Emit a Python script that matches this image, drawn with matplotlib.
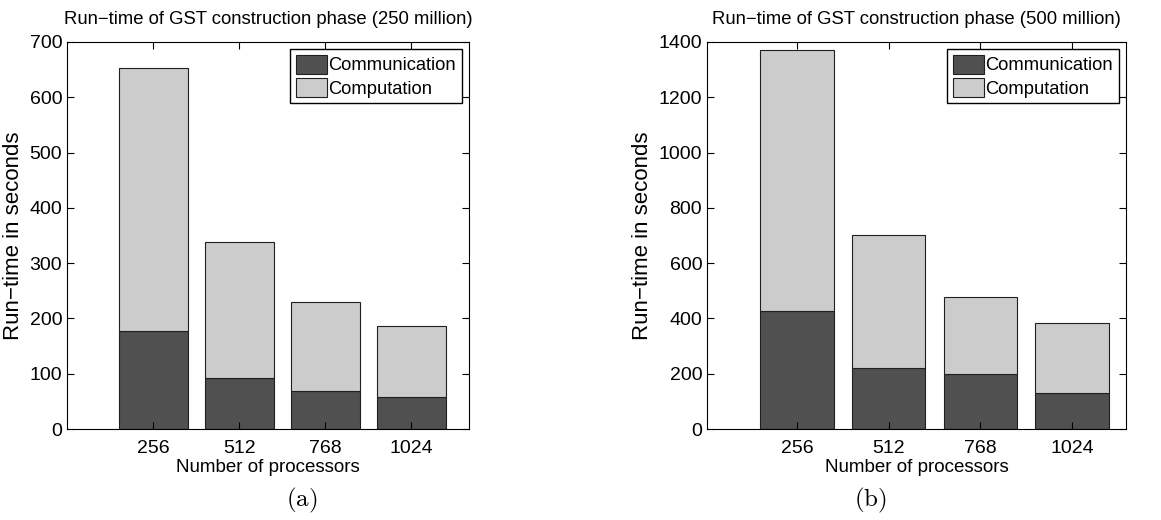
import matplotlib
matplotlib.use('Agg')
import matplotlib.pyplot as plt
import numpy as np

plt.rcParams['font.family'] = ['Liberation Sans', 'DejaVu Sans']
plt.rcParams['mathtext.fontset'] = 'cm'

procs = ['256', '512', '768', '1024']
comm_250 = [178, 92, 68, 57]
total_250 = [653, 338, 230, 186]
comm_500 = [428, 222, 200, 129]
total_500 = [1372, 700, 476, 382]

dark = '#505050'
light = '#cccccc'

fig = plt.figure(figsize=(11.61, 5.2), dpi=100)
W, H = 1161.0, 520.0

def panel(rect, comm, total, ymax, xlim, title, cap, capx):
    ax = fig.add_axes([rect[0]/W, 1-rect[3]/H, (rect[2]-rect[0])/W, (rect[3]-rect[1])/H])
    x = np.arange(1, len(procs)+1)
    comp = [t - c for t, c in zip(total, comm)]
    ax.bar(x, comm, 0.8, color=dark, edgecolor='#202020', linewidth=0.8, label='Communication')
    ax.bar(x, comp, 0.8, bottom=comm, color=light, edgecolor='#202020', linewidth=0.8, label='Computation')
    ax.set_xlim(*xlim)
    ax.set_ylim(0, ymax)
    ax.set_xticks(x)
    ax.set_xticklabels(procs)
    ax.tick_params(direction='in', top=True, right=True, labelsize=14, length=5, width=0.8)
    ax.tick_params(axis='x', pad=8)
    ax.set_xlabel('Number of processors', fontsize=13.5, labelpad=1)
    ax.set_ylabel('Run\u2212time in seconds', fontsize=16, labelpad=4)
    ax.set_title(title, fontsize=13.3, pad=13)
    for s in ax.spines.values():
        s.set_linewidth(0.8)
    leg = ax.legend(loc='upper right', fontsize=13.2, fancybox=False,
                    framealpha=1, edgecolor='black', borderpad=0.3, handlelength=1.7,
                    handleheight=1.2, handletextpad=0.1, labelspacing=0.2,
                    borderaxespad=0.4)
    leg.get_frame().set_linewidth(1.0)
    fig.text(capx/W, 1-500/H, cap, ha='center', va='center', fontsize=18)
    return ax

panel((67, 42, 469, 429), comm_250, total_250, 700, (0, 4.67),
      'Run\u2212time of GST construction phase (250 million)', r'$\mathrm{(a)}$', 302)
panel((707, 42, 1126, 429), comm_500, total_500, 1400, (0.02, 4.59),
      'Run\u2212time of GST construction phase (500 million)', r'$\mathrm{(b)}$', 870)

fig.savefig('out.png', dpi=100)
